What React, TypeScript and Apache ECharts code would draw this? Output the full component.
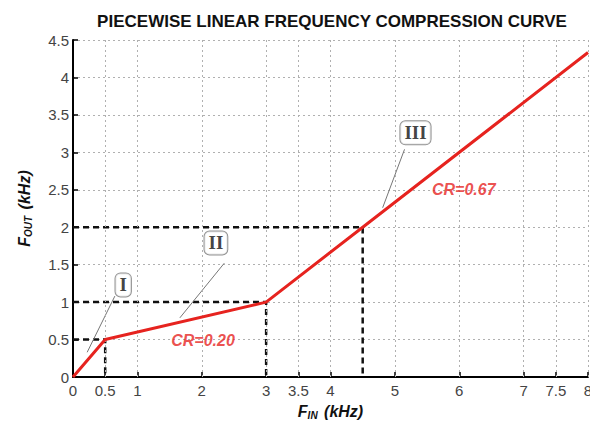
import React, { useEffect, useRef } from "react";
import * as echarts from "echarts";

const curveX = [0, 0.5, 3, 4.5, 8];
const curveY = [0, 0.5, 1, 2, 4.333];

const xTickValues = [0, 0.5, 1, 2, 3, 3.5, 4, 5, 6, 7, 7.5, 8];
const xGridValues = [0.5, 1, 2, 3, 3.5, 4, 5, 6, 7, 7.5, 8];

const guide1 = [[0, 0.5], [0.5, 0.5], [0.5, 0]];
const guide2 = [[0, 1], [3, 1], [3, 0]];
const guide3 = [[0, 2], [4.5, 2], [4.5, 0]];

const regionNames = ["I", "II", "III"];
const regionBoxPos = [[0.78, 1.23], [2.22, 1.79], [5.32, 3.26]];
const leaderFrom = [[0.65, 1.08], [2.35, 1.52], [5.15, 3.04]];
const leaderTo = [[0.22, 0.33], [1.66, 0.79], [4.81, 2.26]];

const crLabels = ["CR=0.20", "CR=0.67"];
const crPos = [[2.02, 0.49], [6.07, 2.5]];

const RED = "#e6231f";

export default function App() {
  const ref = useRef<HTMLDivElement>(null);
  useEffect(() => {
    if (!ref.current) return;
    const chart = echarts.init(ref.current, undefined, { renderer: "svg" });
    const guideStyle = { color: "#111", width: 2.5, type: [6, 4] as any };
    const nameRich = {
      m: { fontSize: 16, fontWeight: "bold", fontStyle: "italic", color: "#111", fontFamily: "Liberation Sans", lineHeight: 18 },
      s: { fontSize: 10, fontWeight: "bold", fontStyle: "italic", color: "#111", fontFamily: "Liberation Sans", lineHeight: 10, padding: [8, 2, 0, 0] },
    };
    chart.setOption({
      animation: false,
      backgroundColor: "#fff",
      title: {
        text: "PIECEWISE LINEAR FREQUENCY COMPRESSION CURVE",
        left: 327,
        textAlign: "center",
        top: 8,
        textStyle: { fontFamily: "Liberation Sans", fontWeight: "bold", fontSize: 17, color: "#111" },
      },
      grid: { left: 73, right: 2, top: 40, bottom: 44, containLabel: false, outerBoundsMode: "none" },
      xAxis: {
        type: "value",
        min: 0,
        max: 8,
        interval: 0.5,
        name: "{m|F}{s|IN}{m| (kHz)}",
        nameLocation: "middle",
        nameGap: 23,
        nameTextStyle: { rich: nameRich },
        axisLine: { show: true, onZero: false, lineStyle: { color: "#000", width: 2 } },
        axisTick: { show: true, inside: true, length: 5, customValues: xTickValues, lineStyle: { color: "#000", width: 1.5 } },
        axisLabel: {
          customValues: xTickValues,
          margin: 6,
          fontFamily: "Liberation Sans",
          fontSize: 15,
          color: "#444",
          hideOverlap: false,
          formatter: (v: number) => String(v),
        },
        splitLine: { show: false },
      },
      yAxis: {
        type: "value",
        min: 0,
        max: 4.5,
        interval: 0.5,
        name: "{m|F}{s|OUT}{m| (kHz)}",
        nameLocation: "middle",
        nameRotate: 90,
        nameGap: 40,
        nameTextStyle: { rich: nameRich },
        axisLine: { show: true, onZero: false, lineStyle: { color: "#000", width: 2 } },
        axisTick: { show: true, inside: true, length: 5, lineStyle: { color: "#000", width: 1.5 } },
        axisLabel: {
          margin: 4,
          fontFamily: "Liberation Sans",
          fontSize: 15,
          color: "#444",
          formatter: (v: number) => String(v),
        },
        splitLine: { show: true, lineStyle: { color: "#b0b0b0", type: [2, 3], width: 1 } },
      },
      series: [
        {
          type: "line",
          data: [],
          silent: true,
          markLine: {
            silent: true,
            symbol: "none",
            label: { show: false },
            lineStyle: { color: "#b0b0b0", type: [2, 3], width: 1 },
            data: xGridValues.map((v) => ({ xAxis: v })),
          },
        },
        { type: "line", data: guide1, symbol: "none", lineStyle: guideStyle, z: 3 },
        { type: "line", data: guide2, symbol: "none", lineStyle: guideStyle, z: 3 },
        { type: "line", data: guide3, symbol: "none", lineStyle: guideStyle, z: 3 },
        {
          type: "lines",
          coordinateSystem: "cartesian2d",
          polyline: false,
          symbol: "none",
          lineStyle: { color: "#777", width: 1, opacity: 1 },
          data: leaderFrom.map((p, i) => ({ coords: [p, leaderTo[i]] })),
          z: 4,
        },
        {
          type: "line",
          data: curveX.map((x, i) => [x, curveY[i]]),
          symbol: "none",
          lineStyle: { color: RED, width: 3 },
          z: 5,
        },
        {
          type: "scatter",
          symbolSize: 0,
          z: 6,
          data: regionNames.map((n, i) => ({ name: n, value: regionBoxPos[i] })),
          label: {
            show: true,
            position: "inside",
            formatter: (p: any) => p.name,
            fontFamily: "Liberation Serif",
            fontWeight: "bold",
            fontSize: 19,
            color: "#111",
            backgroundColor: "#fff",
            borderColor: "#777",
            borderWidth: 1,
            borderRadius: 5,
            padding: [3, 4, 1, 4],
          },
        },
        {
          type: "scatter",
          symbolSize: 0,
          z: 6,
          data: crLabels.map((n, i) => ({ name: n, value: crPos[i] })),
          label: {
            show: true,
            position: "inside",
            formatter: (p: any) => p.name,
            fontFamily: "Liberation Sans",
            fontWeight: "bold",
            fontStyle: "italic",
            fontSize: 16,
            color: RED,
          },
        },
      ],
    });
    return () => chart.dispose();
  }, []);
  return <div ref={ref} style={{ width: 590, height: 421, position: "absolute", left: 0, top: 0 }} />;
}
